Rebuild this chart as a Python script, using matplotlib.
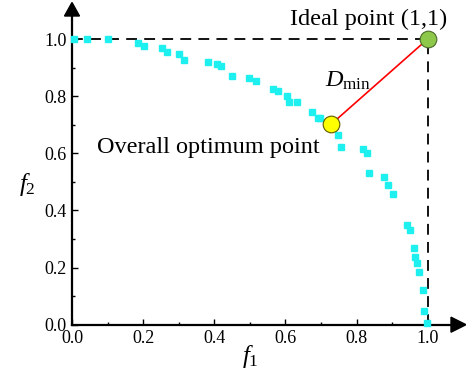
import matplotlib
matplotlib.use("Agg")
import matplotlib.pyplot as plt
from matplotlib.patches import Polygon

plt.rcParams['font.family'] = ['Liberation Serif', 'DejaVu Serif']
plt.rcParams['mathtext.fontset'] = 'custom'
plt.rcParams['mathtext.rm'] = 'Liberation Serif'
plt.rcParams['mathtext.it'] = 'Liberation Serif:italic'

# Pareto front points (f1, f2)
f1 = [0.005, 0.043, 0.102, 0.186, 0.202, 0.254, 0.268, 0.302, 0.315,
      0.383, 0.407, 0.418, 0.451, 0.499, 0.517, 0.566, 0.580, 0.605,
      0.611, 0.633, 0.674, 0.692, 0.697, 0.749, 0.755, 0.817, 0.828,
      0.836, 0.877, 0.887, 0.903, 0.941, 0.950, 0.962, 0.964, 0.969,
      0.976, 0.986, 0.991, 0.998]
f2 = [1.000, 1.000, 1.000, 0.985, 0.975, 0.970, 0.956, 0.948, 0.927,
      0.918, 0.913, 0.906, 0.871, 0.862, 0.853, 0.824, 0.817, 0.802,
      0.778, 0.778, 0.746, 0.722, 0.722, 0.664, 0.621, 0.614, 0.600,
      0.532, 0.516, 0.489, 0.457, 0.349, 0.331, 0.267, 0.236, 0.217,
      0.186, 0.121, 0.049, 0.005]

ideal = (1.0, 1.0)
optimum = (0.728, 0.701)

xticks = [0.0, 0.2, 0.4, 0.6, 0.8, 1.0]
yticks = [0.0, 0.2, 0.4, 0.6, 0.8, 1.0]

fig = plt.figure(figsize=(4.66, 3.73), dpi=100)
ax = fig.add_axes([72/466, (373-324.7)/373, 380/466, (324.7-15)/373])
xmax = 380/355.7
ymax = (324.7-15)/285.7
ax.set_xlim(0, xmax)
ax.set_ylim(0, ymax)

for s in ['top', 'right']:
    ax.spines[s].set_visible(False)
for s in ['left', 'bottom']:
    ax.spines[s].set_linewidth(1.6)

ax.set_xticks(xticks)
ax.set_yticks(yticks)
ax.set_xticklabels([f"{v:.1f}" for v in xticks])
ax.set_yticklabels([f"{v:.1f}" for v in yticks])
ax.set_xticks([0.1, 0.3, 0.5, 0.7, 0.9], minor=True)
ax.set_yticks([0.1, 0.3, 0.5, 0.7, 0.9], minor=True)
ax.tick_params(which='major', direction='in', length=4.2, width=1.0, labelsize=13, pad=4)
ax.tick_params(which='minor', direction='in', length=2.5, width=1.0)

# dashed guide lines
ax.plot([0, ideal[0]], [ideal[1], ideal[1]], color='black', lw=1.3, ls=(0, (6, 4)), zorder=2)
ax.plot([ideal[0], ideal[0]], [0, ideal[1]], color='black', lw=1.3, ls=(0, (6, 4)), zorder=2)

ax.plot(f1, f2, ls='none', marker='s', ms=4.6, color='#1EF0F0', mec='#1EF0F0', zorder=3, clip_on=False)

ax.plot([optimum[0], ideal[0]], [optimum[1], ideal[1]], color='red', lw=1.2, zorder=4)
ax.plot(*ideal, marker='o', ms=12, mfc='#8DC84A', mec='#4A6A2A', mew=0.8, zorder=5, clip_on=False)
ax.plot(*optimum, marker='o', ms=12, mfc='#FFFF00', mec='#5A5A00', mew=0.8, zorder=5)

ax.text(1.054, 1.049, 'Ideal point (1,1)', fontsize=17.5, ha='right', va='baseline')
ax.text(0.711, 0.833, r'$D_{\mathrm{min}}$', fontsize=17.5, ha='left', va='baseline')
ax.text(0.069, 0.601, 'Overall optimum point', fontsize=17.5, ha='left', va='baseline')

# axis labels
fig.text(250/466, 1-357/373, r'$f_{\mathrm{1}}$', fontsize=18, ha='center', va='center')
fig.text(27/466, 1-185/373, r'$f_{\mathrm{2}}$', fontsize=18, ha='center', va='center')

# arrowheads
def px(x, y):
    return (x/466, 1-y/373)
fig.patches.append(Polygon([px(451, 317.2), px(466, 324.7), px(451, 332.2)], closed=True,
                           transform=fig.transFigure, color='black', figure=fig))
fig.patches.append(Polygon([px(64.5, 16), px(72, 2.5), px(79.5, 16)], closed=True,
                           transform=fig.transFigure, color='black', figure=fig))

fig.savefig('out.png', dpi=100)
